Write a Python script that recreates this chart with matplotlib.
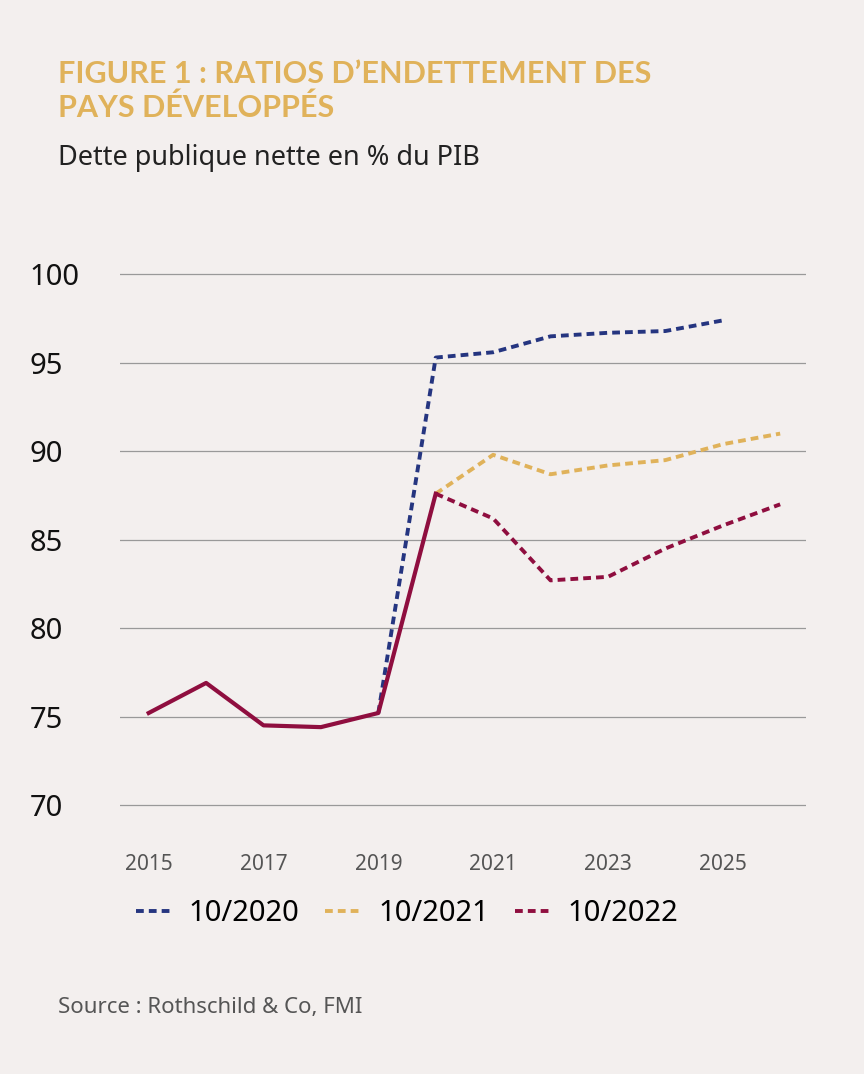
import matplotlib
matplotlib.use("Agg")
import matplotlib.pyplot as plt

years_hist = [2015, 2016, 2017, 2018, 2019, 2020]
hist = [75.2, 76.9, 74.5, 74.4, 75.2, 87.6]
years_2020 = [2019, 2020, 2021, 2022, 2023, 2024, 2025]
v2020 = [75.2, 95.3, 95.6, 96.5, 96.7, 96.8, 97.4]
years_2021 = [2020, 2021, 2022, 2023, 2024, 2025, 2026]
v2021 = [87.6, 89.8, 88.7, 89.2, 89.5, 90.4, 91.0]
years_2022 = [2020, 2021, 2022, 2023, 2024, 2025, 2026]
v2022 = [87.6, 86.2, 82.7, 82.9, 84.5, 85.8, 87.0]
xticks = [2015, 2017, 2019, 2021, 2023, 2025]
yticks = [70, 75, 80, 85, 90, 95, 100]

BG = "#f3efee"; GOLD = "#e0b25a"; NAVY = "#253580"; RED = "#8f0e3f"
plt.rcParams['font.family'] = ['Noto Sans', 'DejaVu Sans']

fig = plt.figure(figsize=(8.64, 10.74), dpi=100, facecolor=BG)
ax = fig.add_axes([120/864, 1-835/1074, (806-120)/864, (835-255)/1074], facecolor=BG)
ax.plot(years_2020, v2020, color=NAVY, lw=2.8, ls=(0, (2, 1.3)), label="10/2020")
ax.plot(years_2021, v2021, color=GOLD, lw=2.8, ls=(0, (2, 1.3)), label="10/2021")
ax.plot(years_2022, v2022, color=RED, lw=2.8, ls=(0, (2, 1.3)), label="10/2022")
ax.plot(years_hist, hist, color=RED, lw=3)
ax.set_xlim(2014.5, 2026.45)
ax.set_ylim(68.3, 101.1)
ax.set_yticks(yticks)
ax.set_xticks(xticks)
ax.yaxis.grid(True, color="#999999", lw=0.9)
ax.set_axisbelow(True)
for s in ax.spines.values():
    s.set_visible(False)
ax.tick_params(axis='y', length=0, labelsize=21, labelcolor="#111111")
ax.tick_params(axis='x', length=0, labelsize=15, labelcolor="#555555", pad=14)
for lbl in ax.get_yticklabels():
    lbl.set_horizontalalignment('left')
ax.yaxis.set_tick_params(pad=65)
ax.legend(loc='upper left', bbox_to_anchor=(-0.015, -0.065), ncol=3, frameon=False,
          fontsize=21, handlelength=1.3, columnspacing=0.9, handletextpad=0.5)

fig.text(58/864, 1-91/1074, "FIGURE 1 : RATIOS D’ENDETTEMENT DES\nPAYS DÉVELOPPÉS",
         color=GOLD, fontsize=22, fontweight='bold', family=['Lato', 'DejaVu Sans'],
         va='center', linespacing=1.2)
fig.text(58/864, 1-158/1074, "Dette publique nette en % du PIB", fontsize=19.5,
         color="#222222", va='center')
fig.text(58/864, 1-1007/1074, "Source : Rothschild & Co, FMI", fontsize=16,
         color="#555555", va='center')
fig.savefig("out.png", dpi=100, facecolor=BG)
